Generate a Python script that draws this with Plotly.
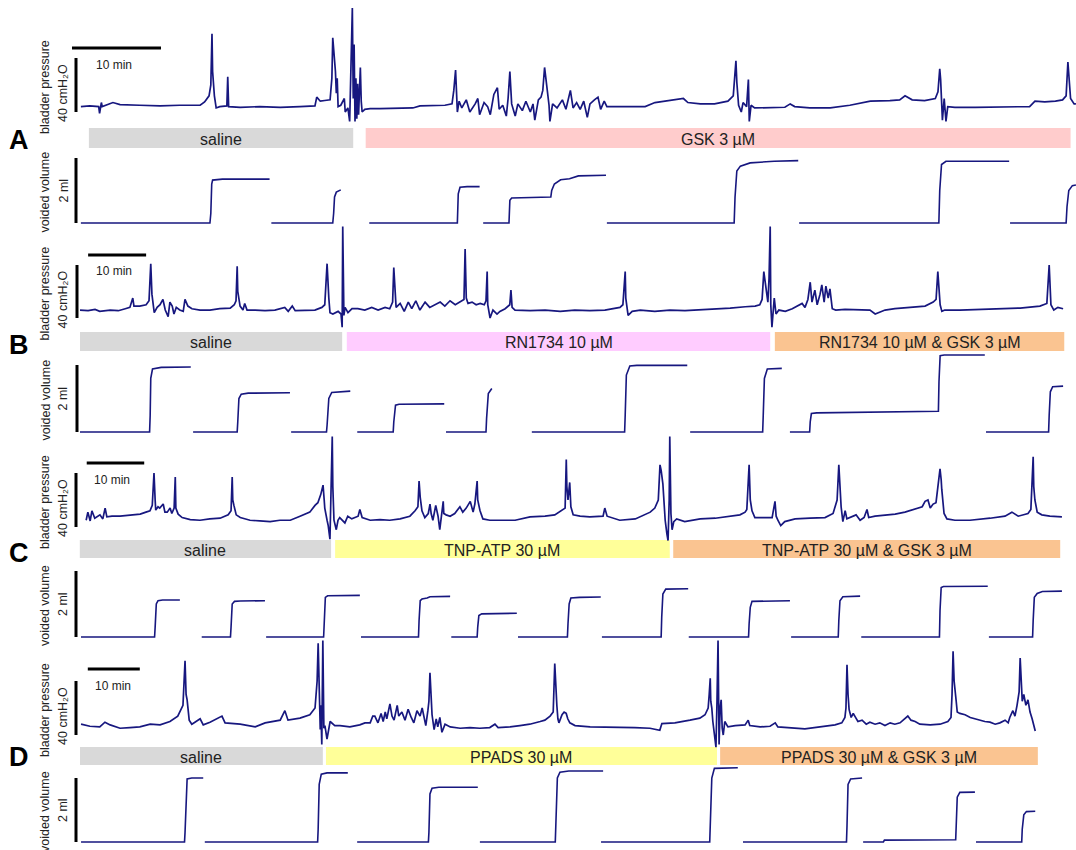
import plotly.graph_objects as go

W, H = 1076, 850

# ---------------- DATA (time in min, pressure in cmH2O, volume in ml) ----------------
A_pressure = [(0.1,4),(1.1,4.5),(2.1,4),(2.2,-1),(2.4,7),(2.5,4),(3.7,7),(4.5,5.5),(6.7,5),(9.0,4.5),(11.2,5),(13.5,5),
 (14.0,7.5),(14.5,12),(14.7,20),(14.83,58),(14.9,30),(15.1,12),(15.3,3),(15.7,4),(16.5,4.5),(16.6,26),(16.7,4),(18.0,3.5),
 (20.2,4),(22.5,3.5),(24.7,4),(26.4,4.5),(26.6,11),(27.0,8),(27.5,8.5),(28.1,9),(28.3,25),(28.4,55),(28.7,30),(28.8,14),
 (28.9,25),(29.0,4),(29.3,5),(29.7,10),(29.8,0),(30.1,3),(30.3,-7),(30.4,20),(30.6,77),(30.7,10),(30.8,50),(30.9,-7),
 (31.0,25),(31.1,-5),(31.2,21),(31.3,-2),(31.5,33),(31.6,8),(31.7,0),(32.0,2),(32.6,2.5),(33.7,2.5),(36.0,3),(37.4,3),
 (38.2,4.5),(41.0,5),(41.8,6),(42.0,16),(42.2,31),(42.4,0),(42.6,8),(42.9,3),(43.4,9),(43.8,0),(44.4,6),(44.7,10),
 (44.9,-2),(45.4,7),(45.8,4),(46.1,-2),(46.5,13),(46.9,18),(47.1,2),(47.5,5),(47.9,-3),(48.1,10),(48.3,30),(48.5,6),
 (48.9,-3),(49.2,6),(49.7,1),(50.1,8),(50.6,0),(50.9,6),(51.1,-6),(51.5,9),(51.8,11),(52.0,16),(52.2,33),(52.5,15),
 (52.7,5),(52.8,-7),(53.1,6),(53.6,3),(54.2,9),(54.6,2),(55.1,16),(55.4,3),(55.8,7),(56.2,2),(56.6,8),(57.0,-4),
 (57.3,6),(57.8,9),(58.2,11),(58.5,2),(58.9,8),(59.2,4),(60.1,4),(61.8,3.5),(63.5,4),(64.6,7),(65.7,8),(66.9,9),
 (67.8,10),(68.3,7),(69.7,6),(71.3,6),(72.8,8),(73.4,12),(73.7,38),(73.8,22),(74.0,5),(74.3,0),(74.5,7),(74.9,4),
 (75.1,24),(75.2,-7),(75.4,5),(75.8,3),(77.5,3.5),(79.2,3.5),(79.8,6),(80.3,4),(82.0,3),(84.3,3),(86.5,5),(88.8,8),
 (91.0,8.5),(92.1,9),(92.7,12),(93.5,9),(94.9,8.5),(96.1,10),(96.4,15),(96.6,32),(96.7,24),(96.9,-6),(97.1,10),
 (97.3,-7),(97.5,4),(98.3,3.5),(100.6,3.5),(102.8,3.5),(105.1,3.5),(106.7,4),(107.3,8),(108.4,7.5),(109.6,8),
 (110.4,9),(110.8,12),(111.0,37),(111.1,28),(111.3,10),(111.7,6),(111.9,6)]

A_volume = [
 [(0.1,0),(14.6,0),(14.7,0.3),(14.8,1.2),(14.9,1.32),(16,1.35),(21.3,1.35)],
 [(21.5,0),(28.4,0),(28.5,0.3),(28.6,0.8),(28.8,0.95),(29.3,1.02)],
 [(32.5,0),(42.4,0),(42.5,0.9),(42.7,1.1),(43.5,1.12),(44.9,1.12)],
 [(45.3,0),(48.2,0),(48.3,0.7),(48.5,0.77),(52.9,0.8),(53.0,1.0),(53.3,1.2),(54.0,1.33),(55.0,1.36),(56.0,1.45),(59.1,1.47)],
 [(59.2,0),(73.5,0),(73.6,0.8),(73.8,1.6),(74.2,1.75),(75.3,1.85),(78.0,1.9),(80.7,1.92)],
 [(80.8,0),(96.5,0),(96.6,1.0),(96.8,1.8),(97.3,1.9),(104.4,1.9)],
 [(104.5,0),(110.8,0),(110.9,0.5),(111.1,1.0),(111.5,1.15),(111.9,1.17)]]

A_treat_labels = ["saline", "GSK 3 µM"]
A_treat_start = [1.0, 32.1]
A_treat_end = [30.7, 111.3]

B_pressure = [(0.0,6),(1.4,5.5),(2.6,6.5),(3.4,5),(5.2,6),(6.6,5.5),(7.8,7),(8.6,8),(9.1,15),(9.3,9),(10.3,9),(11.4,10),
 (11.9,13),(12.2,41),(12.4,18),(12.8,4),(13.3,8),(13.8,10),(14.3,14),(14.7,6),(15.2,1),(15.5,12),(15.9,9),(16.2,3),
 (16.6,8),(17.2,6),(17.8,5),(18.1,14),(18.6,9),(19.3,7),(20.7,6),(22.4,6),(24.1,7),(25.9,7.5),(26.6,10),(26.9,13),
 (27.1,39),(27.2,20),(27.6,9),(28.1,6),(28.4,11),(28.8,6),(30.2,6),(31.9,5.5),(33.6,6),(35.3,8),(35.9,5),(36.6,9),
 (37.1,5.5),(38.8,6),(40.5,6),(41.7,8),(42.2,10),(42.6,41),(42.8,20),(42.9,15),(43.1,4),(43.6,3),(44.5,5),(45.0,3),
 (45.2,-7),(45.3,69),(45.5,2),(45.7,8),(46.2,4),(46.9,7),(47.9,7),(49.1,6),(50.3,8),(51.4,6),(52.6,8),(53.4,7),
 (53.9,12),(54.1,38),(54.5,8),(55.2,11),(55.9,5),(56.6,12),(57.2,7),(57.9,13),(58.6,6),(59.5,12),(60.3,8),(61.2,10),
 (62.1,12),(62.9,9),(63.8,13),(64.7,10),(65.5,12),(66.2,14),(66.4,52),(66.6,15),(66.9,11),(67.6,12),(68.3,10),
 (69.0,11),(69.7,10),(70.0,13),(70.2,35),(70.3,10),(70.7,0),(71.2,6),(71.9,3),(72.4,5),(73.3,7),(74.1,10),(74.3,21),
 (74.5,8),(75.0,6),(77.6,5.5),(80.2,6),(82.8,5),(85.3,6),(87.9,5.5),(90.5,6),(92.2,7),(93.1,8),(93.6,10),(94.0,35),
 (94.1,15),(94.3,7),(94.5,2),(95.2,5),(96.6,6),(99.1,5),(101.7,6),(104.3,5.5),(106.9,6),(109.5,7),(112.1,7.5),
 (114.7,8.5),(116.4,9),(117.2,10),(117.6,14),(117.9,35),(118.3,20),(118.6,12),(118.8,30),(119.0,69),(119.1,10),
 (119.3,-7),(119.7,15),(120.0,3),(120.5,6),(121.6,5),(122.8,7),(123.8,9),(124.5,11),(125.0,8),(125.5,14),(125.9,27),
 (126.2,12),(126.7,21),(127.1,10),(127.6,18),(127.9,25),(128.3,12),(128.6,24),(129.0,15),(129.3,22),(129.7,7),
 (130.3,6),(131.9,6.5),(134.5,6),(136.2,6),(137.1,3),(138.8,6),(140.5,7),(143.1,8),(145.7,9),(147.1,12),(147.6,14),
 (147.9,35),(148.3,10),(148.6,5),(149.1,6),(151.7,6),(155.2,6.5),(158.6,7),(162.1,7.5),(165.5,9),(166.7,11),
 (167.1,40),(167.4,10),(167.9,6),(168.6,8),(169.5,7)]

B_volume = [
 [(0,0),(12.0,0),(12.1,0.5),(12.2,1.6),(12.5,1.88),(14,1.93),(19.1,1.94)],
 [(19.5,0),(27.1,0),(27.2,0.3),(27.4,1.0),(27.8,1.13),(29,1.16),(36.2,1.17)],
 [(36.4,0),(42.5,0),(42.6,0.2),(42.9,1.0),(43.4,1.18),(46.6,1.22)],
 [(47.8,0),(54.0,0),(54.1,0.3),(54.4,0.8),(55,0.83),(62.8,0.84)],
 [(63.1,0),(70.0,0),(70.1,0.4),(70.2,0.8),(70.4,1.15),(71.0,1.3)],
 [(77.9,0),(93.9,0),(94.0,0.5),(94.2,1.7),(94.8,1.97),(96,1.99),(104.7,1.99)],
 [(105.2,0),(117.7,0),(117.8,0.5),(118.0,1.6),(118.5,1.88),(121.0,1.9)],
 [(122.4,0),(125.8,0),(125.9,0.3),(126.1,0.55),(127,0.57),(140,0.6),(148.0,0.62),(148.1,1.5),(148.3,2.28),(149,2.3),(156.0,2.3)],
 [(156.2,0),(167.0,0),(167.1,0.5),(167.3,1.2),(167.7,1.35),(169.5,1.37)]]

B_treat_labels = ["saline", "RN1734 10 µM", "RN1734 10 µM & GSK 3 µM"]
B_treat_start = [0.0, 46.0, 119.8]
B_treat_end = [45.2, 119.0, 169.7]

C_pressure = [(0.2,5),(0.5,11),(0.9,4.5),(1.2,12),(1.7,6.5),(2.6,9),(3.1,6),(3.5,14),(3.8,7.5),(4.7,8),(6.1,8),(7.8,8.5),
 (9.6,9.5),(10.6,11),(11.3,12),(11.7,16),(12.0,40),(12.2,20),(12.3,12.5),(12.7,15),(13.0,14),(13.6,17),(13.9,11),
 (14.3,11),(14.8,14),(15.1,10),(15.5,14),(15.7,37),(15.8,14),(16.2,9.5),(16.9,7),(18.3,5.5),(20.0,5),(21.7,6),
 (23.5,6.5),(24.9,9),(25.4,12),(25.6,37),(25.7,20),(25.9,16),(26.3,9),(27.0,7),(28.7,5),(30.4,4.5),(32.2,4),(33.9,5),
 (35.7,5),(37.4,8),(39.1,11),(40.0,16),(40.5,18),(41.0,24),(41.4,31),(41.6,20),(41.7,14),(42.1,5),(42.3,1),(42.6,-9),
 (42.8,20),(43.0,67),(43.1,30),(43.3,5),(43.7,-2),(44.0,5),(44.3,7),(45.2,3),(45.7,8),(46.4,6),(47.5,8),(47.8,13),
 (48.2,7),(49.6,5),(51.3,5.5),(53.0,5),(54.8,6),(56.5,8),(57.4,12),(57.9,15),(58.1,34),(58.3,22),(58.6,12),(59.1,7),
 (59.7,10),(60.0,17),(60.2,10),(60.5,5),(61.0,16),(61.4,8),(61.7,-2),(61.9,5),(62.3,19),(62.4,10),(62.8,9),(63.5,8),
 (64.3,10),(65.2,15),(65.7,11),(66.3,14),(67.0,19),(67.5,11),(67.8,17),(68.2,34),(68.3,20),(68.7,12),(69.2,6),
 (70.4,5),(72.2,5),(74.8,5),(77.4,7.5),(80.0,8),(81.7,9),(83.1,12.5),(83.5,14),(83.7,50),(83.8,30),(84.0,20),
 (84.3,33),(84.5,15),(84.9,9),(86.1,8),(87.8,7.5),(90.1,8),(90.4,14),(90.8,8),(93.0,5),(95.7,6),(97.4,9),(98.3,11),
 (99.1,14),(99.7,20),(100.0,46),(100.2,42),(100.5,32),(100.7,20),(100.9,5),(101.2,-5),(101.4,-10),(101.6,20),
 (101.7,67),(101.9,10),(102.1,-2),(102.4,4),(102.9,6),(104.3,4),(107.0,6),(109.6,6.5),(112.2,8),(113.9,9),(114.8,11),
 (115.1,13),(115.5,46),(115.7,20),(116.0,12),(116.5,7),(118.3,7),(119.5,7),(120.0,19),(120.2,8),(120.5,5),(121.0,1),
 (121.7,4),(123.5,6),(126.1,6.5),(128.7,7),(130.1,10),(130.6,16),(130.8,20),(131.1,46),(131.3,25),(131.5,15),
 (131.8,4),(132.2,12),(132.5,6),(133.4,8),(134.1,9),(134.8,5),(135.5,7),(136.0,13),(136.3,7),(137.4,8),(139.1,8.5),
 (140.9,9.5),(142.6,11),(144.3,13),(145.6,15),(146.1,19),(146.6,20),(147.0,14),(147.5,17),(148.0,18),(148.3,30),
 (148.7,43),(148.9,35),(149.0,28),(149.4,10),(149.9,6),(151.3,5),(153.9,5),(157.4,6.5),(160.0,8),(161.2,11),
 (162.3,8),(164.0,10),(164.5,13),(164.9,52),(165.0,30),(165.2,20),(165.6,11),(166.4,9),(167.8,8),(169.9,7.5)]

C_volume = [
 [(-0.7,0),(12.1,0),(12.2,0.3),(12.4,1.0),(12.7,1.1),(13.5,1.12),(16.5,1.12)],
 [(20.3,0),(25.3,0),(25.4,0.3),(25.6,1.0),(26.0,1.08),(27,1.09),(31.3,1.1)],
 [(31.5,0),(41.5,0),(41.6,0.4),(41.8,1.2),(42.2,1.25),(47.8,1.26)],
 [(48.0,0),(58.0,0),(58.1,0.5),(58.3,1.1),(58.6,1.15),(59.5,1.18),(60.0,1.22),(63.5,1.23)],
 [(63.7,0),(68.2,0),(68.3,0.3),(68.5,0.65),(69.0,0.7),(75.1,0.72)],
 [(75.3,0),(83.9,0),(84.0,0.4),(84.2,1.0),(84.5,1.18),(86,1.2),(89.7,1.21)],
 [(89.9,0),(100.2,0),(100.3,0.6),(100.5,1.3),(101.0,1.45),(104.9,1.46)],
 [(105.0,0),(115.4,0),(115.5,0.4),(115.7,0.9),(116.0,1.08),(122.6,1.1)],
 [(122.8,0),(131.0,0),(131.1,0.5),(131.3,1.1),(131.8,1.22),(134.8,1.24)],
 [(135.0,0),(148.6,0),(148.7,0.8),(148.9,1.5),(149.3,1.53),(157.0,1.54)],
 [(157.2,0),(164.8,0),(164.9,0.5),(165.1,1.2),(165.6,1.32),(166.5,1.38),(169.9,1.39)]]

C_treat_labels = ["saline", "TNP-ATP 30 µM", "TNP-ATP 30 µM & GSK 3 µM"]
C_treat_start = [-0.9, 43.5, 102.3]
C_treat_end = [42.8, 101.7, 169.6]

D_pressure = [(0.2,8),(1.9,6.5),(3.8,6),(4.8,9.5),(5.8,7.5),(7.7,5),(9.6,5.5),(11.5,6),(13.5,8),(15.4,7.5),(17.3,10),
 (18.8,14),(19.8,22),(20.2,55),(20.4,30),(20.6,26),(21.0,11),(21.5,8),(22.1,9.5),(23.1,12),(23.7,7.5),(25.0,9.5),
 (27.3,14),(27.9,9),(30.8,8),(33.7,6),(35.6,9),(38.5,11),(39.4,18),(40.0,11),(42.3,12.5),(44.2,15),(45.2,20),(45.6,40),
 (45.8,68),(46.0,26),(46.2,4),(46.3,22),(46.5,-7),(46.7,70),(46.9,5),(47.1,7),(47.5,-3),(48.1,10),(49.0,7),(50.0,7),
 (51.9,6),(53.8,7.5),(54.8,9),(55.8,9),(56.3,14),(56.7,14),(57.3,9),(57.9,16),(58.3,10),(58.7,17),(59.0,12),(59.6,23),
 (60.0,14),(60.4,11),(61.0,22),(61.3,14),(61.9,17),(62.5,11),(63.1,19),(63.7,13),(64.2,9),(64.8,18),(65.4,14),
 (65.8,20),(66.2,12),(66.5,7),(66.9,18),(67.1,25),(67.3,46),(67.5,25),(67.7,15),(68.1,4),(68.5,12),(68.8,6),(69.2,13),
 (69.6,2),(70.2,8),(71.2,6),(73.1,5),(75.0,5.5),(76.9,5),(78.8,5.5),(79.8,8),(80.4,5.5),(82.7,6),(84.6,7),(86.5,8),
 (88.5,10),(89.4,11),(90.4,14),(91.0,17),(91.3,53),(91.5,35),(91.7,22),(91.9,12),(92.1,9),(92.7,15),(93.1,17),
 (93.5,16),(93.8,12),(94.2,9),(95.2,7),(98.1,6),(101.0,6),(103.8,6),(106.7,5.5),(109.6,5),(111.5,3.5),(111.9,8.5),
 (114.4,9),(117.3,11),(119.2,12.5),(120.2,15),(120.8,20),(121.0,30),(121.2,42),(121.3,25),(121.5,20),(121.7,10),
 (122.1,-5),(122.3,-9),(122.5,25),(122.7,70),(122.9,-7),(123.1,20),(123.3,26),(123.5,5),(123.7,0),(124.0,10),
 (124.6,6),(126.0,7),(127.9,7.5),(128.5,11),(128.8,7),(130.8,6),(132.7,6.5),(133.7,9),(134.2,6),(136.5,5.5),
 (139.4,4.5),(142.3,6),(145.2,7.5),(146.5,9),(147.1,13),(147.3,20),(147.5,52),(147.7,30),(147.9,19),(148.3,13),
 (148.7,16),(149.0,14),(149.6,10),(150.4,11),(151.2,8),(151.9,9.5),(152.9,8),(153.8,9),(154.8,7),(155.8,9),(156.7,8),
 (157.7,9),(158.7,12),(159.2,14),(159.8,11),(160.6,10),(161.5,8),(163.5,7.5),(165.4,8),(166.9,10),(167.5,13),
 (167.7,30),(167.9,62),(168.1,40),(168.5,25),(168.7,17),(169.2,16),(170.2,15),(171.2,13),(172.1,12),(173.1,10.5),
 (174.0,10),(175.0,9.5),(176.0,8),(176.9,9),(177.9,11),(178.5,9),(178.8,13),(179.4,18),(179.8,14),(180.2,22),
 (180.4,27),(180.6,32),(180.8,57),(181.0,40),(181.2,25),(181.5,30),(181.9,22),(182.3,26),(182.7,17),(183.1,12),
 (183.5,6),(183.7,3)]

D_volume = [
 [(0.2,0),(20.1,0),(20.2,0.3),(20.4,1.5),(20.6,1.97),(21.5,2.0),(23.7,2.0)],
 [(24.0,0),(45.7,0),(45.8,0.4),(46.0,1.8),(46.4,2.12),(47.5,2.16),(51.5,2.16)],
 [(53.3,0),(67.0,0),(67.1,0.3),(67.3,1.5),(67.7,1.68),(69,1.71),(76.5,1.71)],
 [(76.9,0),(91.4,0),(91.5,0.5),(91.8,2.0),(92.3,2.18),(94,2.22),(100.6,2.22)],
 [(100.2,0),(121.1,0),(121.2,0.5),(121.5,2.0),(122.0,2.3),(126.5,2.32)],
 [(127.5,0),(147.4,0),(147.5,0.5),(147.7,1.8),(148.2,1.97),(150.4,2.0)],
 [(150.6,0),(154.5,0),(154.7,0.06),(168.4,0.07),(168.5,0.5),(168.7,1.4),(169.2,1.55),(172.1,1.56)],
 [(172.3,0),(181.1,0),(181.2,0.4),(181.5,0.85),(182.0,0.95),(183.7,0.96)]]

D_treat_labels = ["saline", "PPADS 30 µM", "PPADS 30 µM & GSK 3 µM"]
D_treat_start = [0.0, 47.3, 123.1]
D_treat_end = [46.7, 122.5, 184.2]

SCALE_TIME_MIN = 10
SCALE_PRESSURE = 40
SCALE_VOLUME = 2

# ---------------- LAYOUT CONSTANTS (pixels) ----------------
CFG = {
 "A": dict(x0=80, ppm=8.9, p_zero=112, p_ppu=1.35, p_top=0, p_bot=130, v_zero=223, v_ppu=32.5, v_top=150, v_bot=232,
           bar=(128, 148), tbar_t=-0.9, tbar_y=48, tmin_x=114, tmin_y=65, sb_x=76, label_y=140),
 "B": dict(x0=80, ppm=5.8, p_zero=318, p_ppu=1.325, p_top=215, p_bot=335, v_zero=432, v_ppu=33.5, v_top=345, v_bot=440,
           bar=(332, 351), tbar_t=1.4, tbar_y=255, tmin_x=114, tmin_y=271, sb_x=77, label_y=345),
 "C": dict(x0=85, ppm=5.75, p_zero=527, p_ppu=1.35, p_top=425, p_bot=548, v_zero=637, v_ppu=33, v_top=560, v_bot=645,
           bar=(540, 558), tbar_t=0.3, tbar_y=463, tmin_x=112, tmin_y=480, sb_x=76, label_y=553),
 "D": dict(x0=80, ppm=5.2, p_zero=735, p_ppu=1.35, p_top=632, p_bot=752, v_zero=842, v_ppu=32, v_top=765, v_bot=850,
           bar=(747, 765), tbar_t=1.5, tbar_y=669, tmin_x=113, tmin_y=686, sb_x=76, label_y=757),
}
DATA = {
 "A": (A_pressure, A_volume, A_treat_labels, A_treat_start, A_treat_end),
 "B": (B_pressure, B_volume, B_treat_labels, B_treat_start, B_treat_end),
 "C": (C_pressure, C_volume, C_treat_labels, C_treat_start, C_treat_end),
 "D": (D_pressure, D_volume, D_treat_labels, D_treat_start, D_treat_end),
}

TRACE_COLOR = "#17177f"
FONT = "Arial, Liberation Sans, sans-serif"

def bar_color(label):
    if label == "saline":
        return "#d9d9d9"
    if "&" in label:
        return "#fac491"
    if label.startswith("GSK"):
        return "#ffcccc"
    if label.startswith("RN1734"):
        return "#ffccff"
    return "#ffff99"

def py(px):
    return 1 - px / H

def pxx(px):
    return px / W

fig = go.Figure()
layout = dict(width=W, height=H, margin=dict(l=0, r=0, t=0, b=0), autosize=False,
              paper_bgcolor="white", plot_bgcolor="rgba(0,0,0,0)", showlegend=False)
shapes, annotations = [], []

for i, key in enumerate("ABCD"):
    c = CFG[key]
    press, vol, tl, ts, te = DATA[key]
    xname = "x" if i == 0 else f"x{i+1}"
    xkey = "xaxis" if i == 0 else f"xaxis{i+1}"
    pn, vn = 2 * i + 1, 2 * i + 2
    pyname = "y" if pn == 1 else f"y{pn}"
    pykey = "yaxis" if pn == 1 else f"yaxis{pn}"
    vyname, vykey = f"y{vn}", f"yaxis{vn}"

    layout[xkey] = dict(domain=[0, 1], range=[-c["x0"] / c["ppm"], (W - c["x0"]) / c["ppm"]],
                        visible=False, anchor=pyname, fixedrange=True)
    layout[pykey] = dict(domain=[py(c["p_bot"]), py(c["p_top"])],
                         range=[(c["p_zero"] - c["p_bot"]) / c["p_ppu"], (c["p_zero"] - c["p_top"]) / c["p_ppu"]],
                         visible=False, anchor=xname, fixedrange=True)
    layout[vykey] = dict(domain=[py(c["v_bot"]), py(c["v_top"])],
                         range=[(c["v_zero"] - c["v_bot"]) / c["v_ppu"], (c["v_zero"] - c["v_top"]) / c["v_ppu"]],
                         visible=False, anchor=xname, fixedrange=True)

    # pressure trace
    fig.add_trace(go.Scatter(x=[p[0] for p in press], y=[p[1] for p in press], mode="lines",
                             line=dict(color=TRACE_COLOR, width=1.7), xaxis=xname, yaxis=pyname,
                             hoverinfo="skip"))
    # volume segments
    vx, vy = [], []
    for seg in vol:
        vx += [p[0] for p in seg] + [None]
        vy += [p[1] for p in seg] + [None]
    fig.add_trace(go.Scatter(x=vx, y=vy, mode="lines", line=dict(color=TRACE_COLOR, width=1.6),
                             xaxis=xname, yaxis=vyname, hoverinfo="skip"))

    # treatment bars
    for lab, a, b in zip(tl, ts, te):
        shapes.append(dict(type="rect", xref=xname, yref="paper", x0=a, x1=b,
                           y0=py(c["bar"][1]), y1=py(c["bar"][0]), fillcolor=bar_color(lab), line_width=0, layer="below"))
        annotations.append(dict(x=(a + b) / 2, y=py((c["bar"][0] + c["bar"][1]) / 2 + 1), xref=xname, yref="paper",
                                text=lab, showarrow=False, font=dict(family=FONT, size=16, color="#222"),
                                xanchor="center", yanchor="middle"))

    # scale bars
    shapes.append(dict(type="line", xref=xname, yref="paper", x0=c["tbar_t"], x1=c["tbar_t"] + SCALE_TIME_MIN,
                       y0=py(c["tbar_y"]), y1=py(c["tbar_y"]), line=dict(color="black", width=3)))
    shapes.append(dict(type="line", xref="paper", yref=pyname, x0=pxx(c["sb_x"]), x1=pxx(c["sb_x"]),
                       y0=0, y1=SCALE_PRESSURE, line=dict(color="black", width=3)))
    shapes.append(dict(type="line", xref="paper", yref=vyname, x0=pxx(c["sb_x"]), x1=pxx(c["sb_x"]),
                       y0=0, y1=SCALE_VOLUME, line=dict(color="black", width=3)))
    annotations.append(dict(x=pxx(c["tmin_x"]), y=py(c["tmin_y"]), xref="paper", yref="paper", text="10 min",
                            showarrow=False, font=dict(family=FONT, size=12, color="#222"),
                            xanchor="center", yanchor="middle"))

    p_mid = c["p_zero"] - SCALE_PRESSURE * c["p_ppu"] / 2
    v_mid = c["v_zero"] - SCALE_VOLUME * c["v_ppu"] / 2
    annotations.append(dict(x=pxx(45), y=py(p_mid + 2), xref="paper", yref="paper", text="bladder pressure",
                            textangle=-90, showarrow=False, font=dict(family=FONT, size=12.5, color="#222"),
                            xanchor="center", yanchor="middle"))
    annotations.append(dict(x=pxx(63), y=py(p_mid + 8), xref="paper", yref="paper", text="40 cmH₂O",
                            textangle=-90, showarrow=False, font=dict(family=FONT, size=12.5, color="#222"),
                            xanchor="center", yanchor="middle"))
    annotations.append(dict(x=pxx(45), y=py(v_mid + 2), xref="paper", yref="paper", text="voided volume",
                            textangle=-90, showarrow=False, font=dict(family=FONT, size=12.5, color="#222"),
                            xanchor="center", yanchor="middle"))
    annotations.append(dict(x=pxx(63), y=py(v_mid), xref="paper", yref="paper", text="2 ml",
                            textangle=-90, showarrow=False, font=dict(family=FONT, size=12.5, color="#222"),
                            xanchor="center", yanchor="middle"))
    annotations.append(dict(x=pxx(19), y=py(c["label_y"]), xref="paper", yref="paper", text=f"<b>{key}</b>",
                            showarrow=False, font=dict(family=FONT, size=27, color="black"),
                            xanchor="center", yanchor="middle"))

layout["shapes"] = shapes
layout["annotations"] = annotations
fig.update_layout(**layout)

fig.write_html("out.html", config={"displayModeBar": False, "staticPlot": True},
               post_script="document.body.style.margin='0';")
